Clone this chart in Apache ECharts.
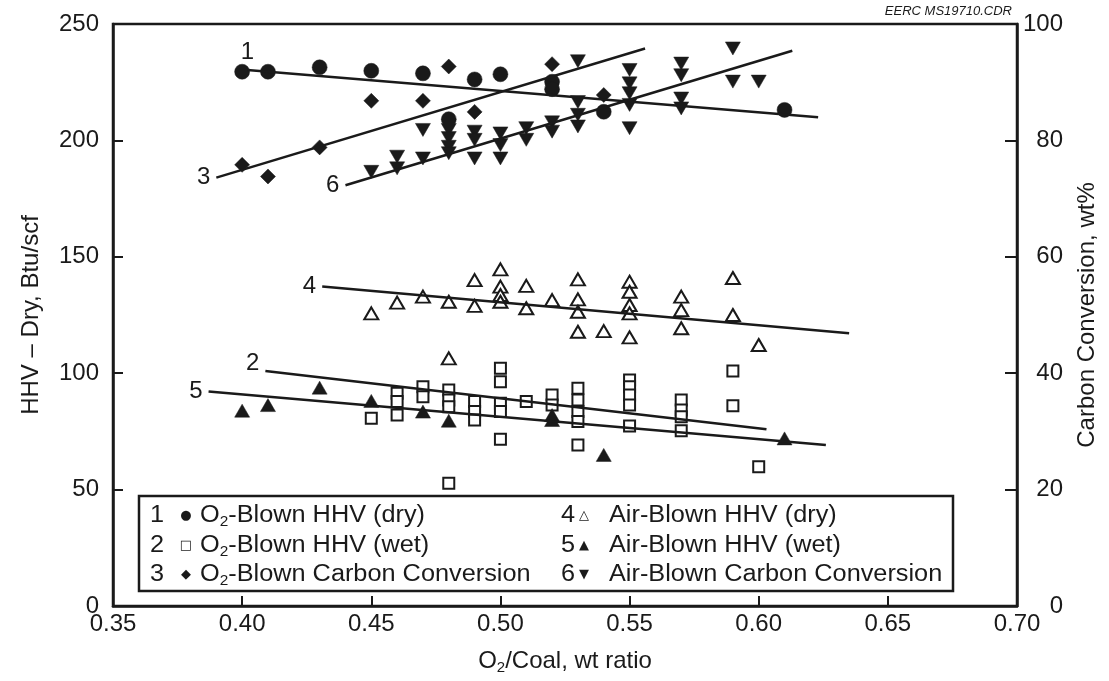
<!DOCTYPE html>
<html><head><meta charset="utf-8">
<script src="https://cdn.jsdelivr.net/npm/echarts@6/dist/echarts.min.js"></script>
<style>html,body{margin:0;padding:0;background:#fff}#c{width:1109px;height:681px}</style>
</head><body><div id="c"></div>
<script>
// ---- data (x = O2/Coal wt ratio) ----
const o2HhvDry = [[0.40,229.5],[0.41,229.5],[0.43,231.4],[0.45,229.9],[0.47,228.8],[0.48,209.1],[0.49,226.2],[0.50,228.4],[0.52,225.2],[0.52,222.0],[0.54,212.3],[0.61,213.1]];
const o2HhvWet = [[0.45,80.6],[0.46,91.4],[0.46,87.8],[0.46,82.0],[0.47,94.2],[0.47,89.9],[0.48,92.8],[0.48,88.5],[0.48,85.6],[0.48,52.7],[0.49,87.8],[0.49,83.5],[0.49,79.9],[0.50,102.1],[0.50,96.3],[0.50,87.1],[0.50,83.5],[0.50,71.6],[0.51,87.8],[0.52,90.6],[0.52,86.3],[0.53,93.5],[0.53,88.5],[0.53,83.5],[0.53,79.2],[0.53,69.2],[0.55,97.1],[0.55,94.2],[0.55,90.6],[0.55,86.3],[0.55,77.3],[0.57,88.5],[0.57,84.2],[0.57,81.3],[0.57,75.3],[0.59,100.9],[0.59,86.0],[0.60,59.8]];
const o2CarbonConv = [[0.40,75.8],[0.41,73.8],[0.43,78.8],[0.45,86.8],[0.47,86.8],[0.48,92.7],[0.49,84.9],[0.52,93.1],[0.54,87.8]];
const airHhvDry = [[0.45,125.7],[0.46,130.3],[0.47,132.9],[0.48,130.7],[0.48,106.4],[0.49,140.0],[0.49,128.9],[0.50,144.6],[0.50,137.2],[0.50,133.6],[0.50,130.7],[0.51,137.5],[0.51,127.9],[0.52,131.4],[0.53,140.3],[0.53,131.7],[0.53,126.4],[0.53,117.8],[0.54,118.1],[0.55,139.3],[0.55,135.0],[0.55,129.3],[0.55,125.7],[0.55,115.4],[0.57,132.9],[0.57,127.1],[0.57,119.3],[0.59,140.9],[0.59,125.0],[0.60,112.1]];
const airHhvWet = [[0.40,83.9],[0.41,86.3],[0.43,93.8],[0.45,88.1],[0.47,83.5],[0.48,79.6],[0.52,79.9],[0.52,82.0],[0.54,64.9],[0.61,72.0]];
const airCarbonConv = [[0.45,74.6],[0.46,77.2],[0.46,75.2],[0.47,76.9],[0.47,81.8],[0.48,81.8],[0.48,80.4],[0.48,78.9],[0.48,77.8],[0.49,81.5],[0.49,80.1],[0.49,76.9],[0.50,81.2],[0.50,79.2],[0.50,76.9],[0.51,82.1],[0.51,80.1],[0.52,83.1],[0.52,81.5],[0.53,93.6],[0.53,86.6],[0.53,84.4],[0.53,82.4],[0.55,92.1],[0.55,89.8],[0.55,88.1],[0.55,86.1],[0.55,82.1],[0.57,93.2],[0.57,91.2],[0.57,87.2],[0.57,85.5],[0.59,95.8],[0.59,90.1],[0.60,90.1]];
// trend lines (start, end)
const trend1 = [[0.402,230.2],[0.623,209.9]];
const trend2 = [[0.409,100.9],[0.603,75.9]];
const trend3 = [[0.390,73.6],[0.556,95.8]];
const trend4 = [[0.431,137.2],[0.635,117.2]];
const trend5 = [[0.387,92.1],[0.626,69.2]];
const trend6 = [[0.440,72.3],[0.613,95.4]];
const xAxisRange = [0.35, 0.70, 0.05];
const leftAxisRange = [0, 250, 50];
const rightAxisRange = [0, 100, 20];
const legendRows = [
  ['1','●','O{s|2}-Blown HHV (dry)'],
  ['2','□','O{s|2}-Blown HHV (wet)'],
  ['3','◆','O{s|2}-Blown Carbon Conversion'],
  ['4','△','Air-Blown HHV (dry)'],
  ['5','▲','Air-Blown HHV (wet)'],
  ['6','▼','Air-Blown Carbon Conversion']
];

const INK = '#1a1a1a';
const FONT = '"Liberation Sans", Arial, Helvetica, sans-serif';
const chart = echarts.init(document.getElementById('c'), null, {renderer:'canvas'});

function scatter(data, yIdx, symbol, size, open, rotate) {
  return {
    type:'scatter', data, yAxisIndex:yIdx, symbol, symbolSize:size, symbolRotate: rotate||0,
    itemStyle: open ? {color:'#fff', borderColor:INK, borderWidth:2, opacity:1} : {color:INK, borderColor:INK, borderWidth:0.5, opacity:1},
    z: 3
  };
}
function trend(data, yIdx, label, pos, offset) {
  return {
    type:'line', yAxisIndex:yIdx, showSymbol:true, symbol:'circle', symbolSize:0.1,
    lineStyle:{color:INK, width:2.5}, itemStyle:{color:INK}, z: 4, silent:true,
    data:[{value:data[0], label:{show:true, formatter:label, position:pos, distance:6, offset:offset||[0,0],
           fontSize:24, color:INK, fontFamily:FONT}}, {value:data[1]}]
  };
}

const graphics = [
  {type:'text', right: 97, top: 5, style:{text:'EERC MS19710.CDR', font:'italic 13px ' + FONT, fill:INK}},
  {type:'rect', shape:{x:139, y:496, width:814, height:95}, style:{fill:'#fff', stroke:INK, lineWidth:2.5}, z:10}
];
const rowY = [516, 546, 575];
legendRows.forEach((r, i) => {
  const col = i < 3 ? 0 : 1;
  const y = rowY[i % 3];
  const nx = col ? 568 : 157;
  const ix = col ? 584 : 186;
  const tx = col ? 609 : 200;
  graphics.push({type:'text', x:nx, y:y, z:11, scaleX:1.1, style:{text:r[0], font:'23px '+FONT, fill:INK, textAlign:'center', textVerticalAlign:'middle'}});
  graphics.push({type:'text', x:ix, y:y, z:11, style:{text:r[1], font:'13px "DejaVu Sans", sans-serif', fill:INK, textAlign:'center', textVerticalAlign:'middle'}});
  graphics.push({type:'text', x:tx, y:y, z:11, scaleX:1.1, style:{text:r[2], fontSize:23, fontFamily:FONT, fill:INK, textAlign:'left', textVerticalAlign:'middle',
    rich:{s:{fontSize:14, fontFamily:FONT, fill:INK, padding:[12,0,0,0]}}}});
});

const option = {
  backgroundColor:'#fff',
  animation:false,
  textStyle:{fontFamily:FONT},
  grid:{left:113, right:92, top:24, bottom:75, show:true, borderColor:INK, borderWidth:2.5, backgroundColor:'transparent'},
  xAxis:{
    type:'value', min:xAxisRange[0], max:xAxisRange[1], interval:xAxisRange[2],
    axisLine:{show:true, onZero:false, lineStyle:{color:INK, width:2.5}},
    axisTick:{show:true, inside:true, length:10, lineStyle:{color:INK, width:2}},
    splitLine:{show:false},
    axisLabel:{fontSize:24, color:INK, margin:6, formatter:v=>v.toFixed(2), fontFamily:FONT},
    name:'O{s|2}/Coal, wt ratio', nameLocation:'middle', nameGap:42,
    nameTextStyle:{fontSize:24, color:INK, fontFamily:FONT, rich:{s:{fontSize:15, color:INK, padding:[12,0,0,0], fontFamily:FONT}}}
  },
  yAxis:[{
    type:'value', min:leftAxisRange[0], max:leftAxisRange[1], interval:leftAxisRange[2], position:'left',
    axisLine:{show:true, onZero:false, lineStyle:{color:INK, width:2.5}},
    axisTick:{show:true, inside:true, length:10, lineStyle:{color:INK, width:2}},
    splitLine:{show:false},
    axisLabel:{fontSize:24, color:INK, margin:14, fontFamily:FONT},
    name:'HHV – Dry, Btu/scf', nameLocation:'middle', nameRotate:90, nameGap:70,
    nameTextStyle:{fontSize:24, color:INK, fontFamily:FONT}
  },{
    type:'value', min:rightAxisRange[0], max:rightAxisRange[1], interval:rightAxisRange[2], position:'right',
    axisLine:{show:true, onZero:false, lineStyle:{color:INK, width:2.5}},
    axisTick:{show:true, inside:true, length:12, lineStyle:{color:INK, width:2}},
    splitLine:{show:false},
    axisLabel:{fontSize:24, color:INK, margin:46, align:'right', fontFamily:FONT},
    name:'Carbon Conversion, wt%', nameLocation:'middle', nameRotate:90, nameGap:58,
    nameTextStyle:{fontSize:24, color:INK, fontFamily:FONT}
  }],
  series:[
    trend(trend1, 0, '1', 'top'),
    trend(trend2, 0, '2', 'left', [0,-8]),
    trend(trend3, 1, '3', 'left'),
    trend(trend4, 0, '4', 'left'),
    trend(trend5, 0, '5', 'left'),
    trend(trend6, 1, '6', 'left'),
    scatter(o2HhvDry, 0, 'circle', 15, false),
    scatter(o2HhvWet, 0, 'rect', 11, true),
    scatter(o2CarbonConv, 1, 'diamond', 15, false),
    scatter(airHhvDry, 0, 'triangle', [14,12], true),
    scatter(airHhvWet, 0, 'triangle', [15,13], false),
    scatter(airCarbonConv, 1, 'triangle', [15,13], false, 180)
  ],
  graphic: graphics
};
chart.setOption(option);
</script></body></html>
